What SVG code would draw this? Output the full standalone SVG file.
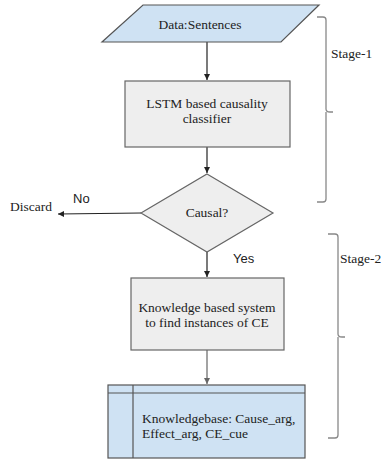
<svg xmlns="http://www.w3.org/2000/svg" width="386" height="459" viewBox="0 0 386 459">
  <defs>
    <marker id="arrow" markerWidth="8" markerHeight="8" refX="6" refY="3" orient="auto" markerUnits="userSpaceOnUse">
      <path d="M0,0 L6,3 L0,6 Z" fill="#222"/>
    </marker>
    <marker id="arrowGray" markerWidth="8" markerHeight="8" refX="6" refY="3" orient="auto" markerUnits="userSpaceOnUse">
      <path d="M0,0 L6,3 L0,6 Z" fill="#666"/>
    </marker>
  </defs>
  <style>
    .serif { font-family: "Liberation Serif", "Times New Roman", serif; font-size: 13.5px; fill: #222; }
    .sans { font-family: "Liberation Sans", Arial, sans-serif; font-size: 13px; fill: #222; }
    .blue { fill: #cfe2f3; stroke: #555; stroke-width: 1.2; }
    .grey { fill: #eeeeee; stroke: #666; stroke-width: 1.2; }
    .edge { stroke: #222; stroke-width: 1.2; fill: none; }
    .brace { stroke: #888; stroke-width: 1.3; fill: none; }
  </style>
  <rect width="386" height="459" fill="#ffffff"/>

  <g id="connectors">
    <line class="edge" x1="207" y1="42" x2="207" y2="80" marker-end="url(#arrow)"/>
    <line class="edge" x1="207" y1="147" x2="207" y2="173" marker-end="url(#arrow)"/>
    <line class="edge" x1="141" y1="213" x2="58" y2="214" marker-end="url(#arrow)"/>
    <line class="edge" x1="207" y1="252" x2="207" y2="277" marker-end="url(#arrow)"/>
    <line x1="207" y1="350" x2="207" y2="384" stroke="#666" stroke-width="1.2" marker-end="url(#arrowGray)"/>
    <text class="sans" x="73" y="203">No</text>
    <text class="sans" x="233" y="263">Yes</text>
  </g>

  <g id="data-sentences">
    <polygon class="blue" points="143,5 319,5 281,42 102,42"/>
    <text class="serif" x="200" y="29" text-anchor="middle" font-size="15.5">Data:Sentences</text>
  </g>

  <g id="lstm-classifier">
    <rect class="grey" x="125" y="81" width="165" height="66"/>
    <text class="serif" x="207" y="108" text-anchor="middle">LSTM based causality</text>
    <text class="serif" x="207" y="123" text-anchor="middle">classifier</text>
  </g>

  <g id="causal-decision">
    <polygon class="grey" points="207,174 273,213 207,252 141,213"/>
    <text class="serif" x="207" y="217" text-anchor="middle">Causal?</text>
  </g>

  <g id="discard">
    <text class="serif" x="10" y="211">Discard</text>
  </g>

  <g id="knowledge-system">
    <rect class="grey" x="131" y="278" width="153" height="72"/>
    <text class="serif" x="207" y="312" text-anchor="middle">Knowledge based system</text>
    <text class="serif" x="207" y="327" text-anchor="middle">to find instances of CE</text>
  </g>

  <g id="knowledgebase">
    <rect class="blue" x="108" y="385" width="197" height="73"/>
    <line x1="108" y1="393" x2="305" y2="393" stroke="#555" stroke-width="1.2"/>
    <line x1="133" y1="385" x2="133" y2="458" stroke="#555" stroke-width="1.2"/>
    <text class="serif" x="142" y="423">Knowledgebase: Cause_arg,</text>
    <text class="serif" x="142" y="438">Effect_arg, CE_cue</text>
  </g>

  <g id="stage-1">
    <path class="brace" d="M317,17 H323 Q326,17 326,20 V109 Q326,112 330,112 H333 M326,112 V199 Q326,202 323,202 H317"/>
    <text class="serif" x="331" y="58" font-size="15">Stage-1</text>
  </g>

  <g id="stage-2">
    <path class="brace" d="M328,234 H335 Q338,234 338,237 V334 Q338,337 342,337 H345 M338,337 V435 Q338,438 335,438 H328"/>
    <text class="serif" x="340" y="263" font-size="15">Stage-2</text>
  </g>
</svg>
